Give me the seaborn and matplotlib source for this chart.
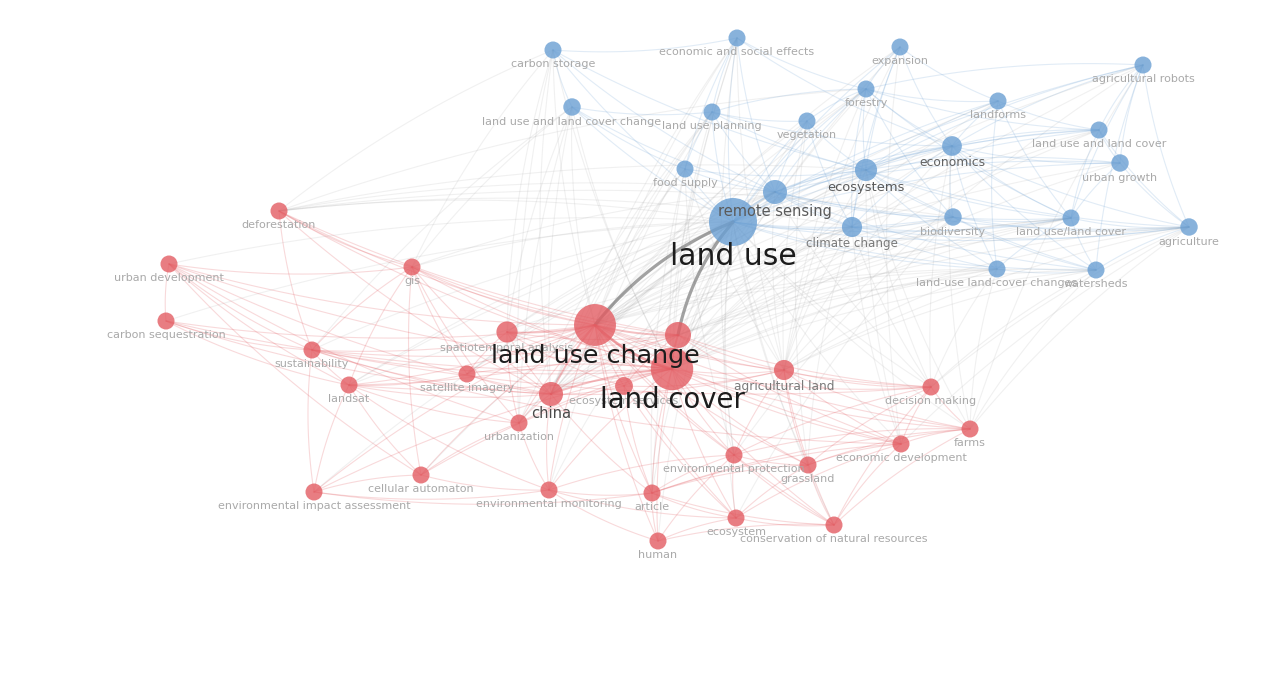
import numpy as np
import pandas as pd
import matplotlib
matplotlib.use("Agg")
import matplotlib.pyplot as plt
import seaborn as sns
from matplotlib.collections import LineCollection

# ---------------- data ----------------
labels = [
    "carbon storage", "economic and social effects", "expansion", "agricultural robots",
    "forestry", "landforms", "land use and land cover change", "land use planning",
    "vegetation", "land use and land cover", "economics", "urban growth",
    "food supply", "ecosystems", "remote sensing", "land use",
    "climate change", "biodiversity", "land use/land cover", "agriculture",
    "land-use land-cover changes", "watersheds",
    "deforestation", "urban development", "gis", "carbon sequestration",
    "sustainability", "landsat", "spatiotemporal analysis", "land use change",
    "", "land cover", "satellite imagery", "china",
    "ecosystem services", "agricultural land", "decision making", "urbanization",
    "farms", "environmental protection", "economic development", "grassland",
    "cellular automaton", "environmental impact assessment", "environmental monitoring", "article",
    "ecosystem", "conservation of natural resources", "human",
]
node_x = [553, 737, 900, 1143, 866, 998, 572, 712, 807, 1099, 952, 1120, 685, 866, 775, 733,
          852, 953, 1071, 1189, 997, 1096,
          279, 169, 412, 166, 312, 349, 507, 595, 678, 672, 467, 551, 624, 784, 931, 519,
          970, 734, 901, 808, 421, 314, 549, 652, 736, 834, 658]
node_y = [50, 38, 47, 65, 89, 101, 107, 112, 121, 130, 146, 163, 169, 170, 192, 222,
          227, 217, 218, 227, 269, 270,
          211, 264, 267, 321, 350, 385, 332, 325, 335, 369, 374, 394, 386, 370, 387, 423,
          429, 455, 444, 465, 475, 492, 490, 493, 518, 525, 541]
occurrences = [20, 20, 20, 20, 20, 20, 21, 20, 20, 20, 27, 21, 20, 34, 40, 160,
               28, 21, 20, 21, 20, 20,
               20, 20, 20, 20, 20, 20, 31, 122, 47, 125, 20, 40, 22, 28, 20, 20,
               20, 20, 20, 20, 20, 20, 20, 20, 20, 20, 20]
cluster = ["blue"] * 22 + ["red"] * 27

# co-occurrence links (node index -> linked node indices)
links = {
    0: [15, 29, 31, 1, 6, 14, 13, 33, 28, 22, 24, 37],
    1: [15, 29, 31, 7, 4, 14, 10, 12, 45, 33, 35, 39],
    2: [15, 4, 13, 10, 5, 16, 29, 31, 35, 40],
    3: [15, 19, 9, 11, 4, 13, 10, 18, 21, 31, 29, 35, 38],
    4: [15, 14, 13, 10, 16, 17, 5, 9, 18, 31, 29, 33, 22, 35],
    5: [15, 10, 13, 18, 9, 20, 31, 29],
    6: [15, 29, 31, 7, 14, 12, 33, 37, 24, 26, 28],
    7: [15, 14, 13, 29, 31, 12, 8, 4, 10, 33, 37, 44],
    8: [15, 14, 13, 16, 4, 29, 31, 35, 41],
    9: [15, 14, 10, 13, 18, 19, 11, 31, 29, 33],
    10: [15, 14, 13, 16, 17, 18, 19, 11, 20, 21, 29, 31, 35, 38, 36],
    11: [15, 14, 13, 18, 19, 31, 29],
    12: [15, 14, 13, 29, 31, 45, 33, 35, 39],
    13: [15, 14, 16, 17, 18, 19, 20, 21, 29, 31, 35, 40, 33, 22, 36, 38],
    14: [15, 16, 17, 18, 19, 20, 21, 29, 31, 28, 33, 32, 27, 24, 22, 30, 37, 36, 35],
    15: [29, 31, 30, 33, 16, 17, 18, 19, 20, 21, 28, 22, 23, 24, 25, 26, 27, 32, 34, 35,
         36, 37, 38, 39, 40, 41, 42, 43, 44, 45, 46, 47, 48],
    16: [17, 18, 19, 29, 31, 35, 40, 33, 22, 30, 36, 41],
    17: [18, 19, 21, 31, 29, 33, 39, 22, 46],
    18: [19, 21, 20, 31, 29, 30, 33, 27],
    19: [21, 31, 29, 35, 38, 36, 40, 30],
    20: [21, 31, 29, 30, 33, 35, 36, 38],
    21: [31, 29, 30, 35, 36, 38],
    22: [29, 31, 30, 24, 26, 33],
    23: [29, 31, 24, 26, 27, 25, 37, 33, 42],
    24: [29, 31, 30, 32, 27, 33, 42, 37, 26],
    25: [29, 31, 26, 27, 33],
    26: [29, 31, 27, 30, 33, 36, 40, 43],
    27: [29, 31, 32, 30, 33, 42, 37, 43, 44],
    28: [29, 31, 30, 33, 34, 32, 37],
    29: [30, 31, 33, 34, 32, 35, 36, 37, 38, 39, 40, 41, 42, 43, 44, 45, 46, 47, 48],
    30: [31, 33, 35, 34, 36, 40],
    31: [33, 34, 32, 35, 36, 37, 38, 39, 40, 41, 42, 43, 44, 45, 46, 47, 48],
    33: [34, 37, 32, 35, 44, 45],
    34: [35, 45, 46],
    35: [36, 38, 40, 41, 47, 39],
    36: [38, 40, 41, 47, 39],
    37: [42, 44],
    38: [40, 41, 47, 39, 45],
    39: [45, 46, 47, 41, 48, 44],
    40: [41, 47, 46, 45],
    41: [47, 46, 45],
    42: [43, 44],
    43: [44, 45],
    44: [45, 48, 46],
    45: [46, 48, 47],
    46: [47, 48],
    47: [48],
}
link_strength = {(15, 29): 6, (15, 30): 6, (29, 31): 5, (14, 15): 3, (29, 33): 3,
                 (31, 33): 3, (28, 29): 2.5, (30, 31): 3, (29, 30): 3}

# ---------------- styles ----------------
palette = {"blue": "#6a9fd3", "red": "#e35d63"}
label_style = {
    "land use": (21.5, "#1c1c1c"),
    "land use change": (18.3, "#1c1c1c"),
    "land cover": (19.8, "#1c1c1c"),
    "remote sensing": (10.5, "#5a5a5a"),
    "ecosystems": (9.4, "#5a5a5a"),
    "economics": (8.9, "#626262"),
    "china": (10.6, "#4a4a4a"),
    "climate change": (8.6, "#7a7a7a"),
    "agricultural land": (8.8, "#7a7a7a"),
}
default_style = (8.0, "#a9a9a9")

nodes = pd.DataFrame({"label": labels, "x": node_x, "y": node_y,
                      "occurrences": occurrences, "cluster": cluster})

sns.set_theme(style="white")
fig = plt.figure(figsize=(12.64, 6.78), dpi=100)
ax = fig.add_axes([0, 0, 1, 1])

# ---------------- edges ----------------
segs, cols, widths = [], [], []
t = np.linspace(0, 1, 30)[:, None]
for a, nbrs in links.items():
    for b in nbrs:
        p0 = np.array([node_x[a], node_y[a]], float)
        p2 = np.array([node_x[b], node_y[b]], float)
        if a > b:
            p0, p2 = p2, p0
        d = p2 - p0
        perp = np.array([-d[1], d[0]])
        key = (min(a, b), max(a, b))
        w = link_strength.get(key, 1)
        bend = 0.13 if w >= 5 else 0.07
        p1 = (p0 + p2) / 2 + bend * perp
        curve = (1 - t) ** 2 * p0 + 2 * (1 - t) * t * p1 + t ** 2 * p2
        segs.append(curve)
        if cluster[a] == cluster[b]:
            base = matplotlib.colors.to_rgb(palette[cluster[a]])
            alpha = (0.23 if cluster[a] == "red" else 0.2) + 0.08 * (w - 1)
        else:
            base = matplotlib.colors.to_rgb("#9a9a9a")
            alpha = 0.14 + 0.1 * (w - 1)
        if key in [(15, 29), (15, 30)]:
            base = matplotlib.colors.to_rgb("#6e6e6e")
        cols.append((*base, min(alpha, 0.7)))
        widths.append(0.8 + 0.3 * (w - 1))
ax.add_collection(LineCollection(segs, colors=cols, linewidths=widths, zorder=1,
                                 capstyle="round"))

# ---------------- nodes ----------------
sns.scatterplot(data=nodes, x="x", y="y", hue="cluster", palette=palette,
                size="occurrences", sizes=(150, 1194), size_norm=(20, 160),
                alpha=0.8, linewidth=0, legend=False, ax=ax, zorder=2)

# ---------------- labels ----------------
order = sorted(range(len(labels)), key=lambda i: occurrences[i])
for k, i in enumerate(order):
    if not labels[i]:
        continue
    fs, col = label_style.get(labels[i], default_style)
    r = np.sqrt((150 + (occurrences[i] - 20) / 140 * 1044) / 2.07)
    off = r + 0.35 * fs * 1.39 + 2 - 0.18 * max(fs - 12, 0)
    ax.text(node_x[i], node_y[i] + off, labels[i], fontsize=fs,
            color=col, ha="center", va="center", zorder=3 + k * 0.01)

ax.set_xlim(0, 1264)
ax.set_ylim(678, 0)
ax.axis("off")
fig.savefig("out.png", dpi=100, facecolor="white")
